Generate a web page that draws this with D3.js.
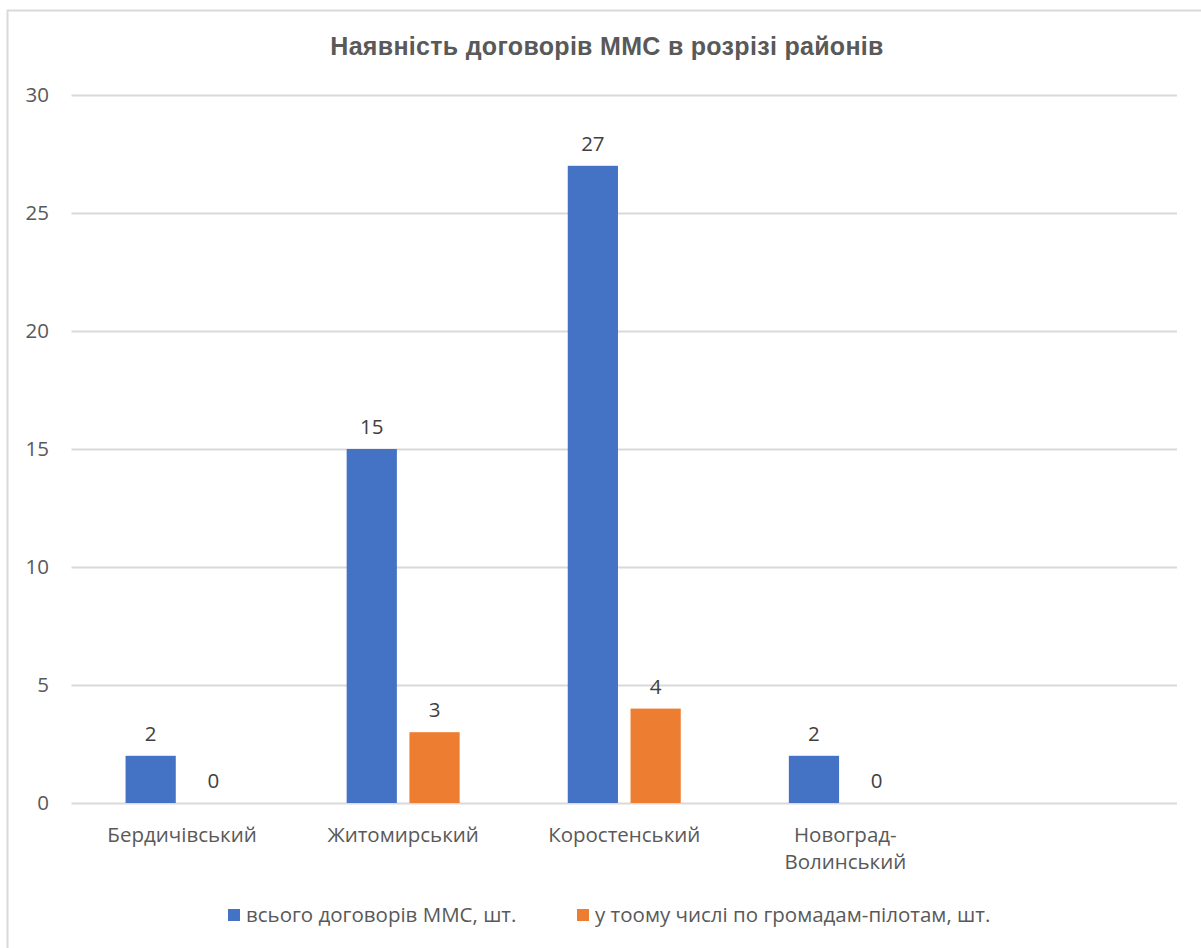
<!DOCTYPE html>
<html>
<head>
<meta charset="utf-8">
<script src="https://cdn.jsdelivr.net/npm/d3@7"></script>
<style>
  html, body { margin: 0; padding: 0; background: #fff; }
  svg { display: block; }
</style>
</head>
<body>
<div id="chart"></div>
<script>
// chart data
var title = 'Наявність договорів ММС в розрізі районів';
var categories = ['Бердичівський', 'Житомирський', 'Коростенський', 'Новоград-Волинський', ''];
var seriesNames = ['всього договорів ММС, шт.', 'у тоому числі по громадам-пілотам, шт.'];
var totalContracts = [2, 15, 27, 2, null];
var pilotContracts = [0, 3, 4, 0, null];
var yTicks = [0, 5, 10, 15, 20, 25, 30];

var colors = ['#4472c4', '#ed7d31'];
var width = 1201, height = 948;

var svg = d3.select('#chart')
  .append('svg')
  .attr('width', width)
  .attr('height', height);

// outer frame of the chart
svg.append('rect')
  .attr('x', 7.5)
  .attr('y', 10.5)
  .attr('width', 1250)
  .attr('height', 1000)
  .attr('fill', 'none')
  .attr('stroke', '#d9d9d9')
  .attr('stroke-width', 2);

svg.append('text')
  .attr('x', 607)
  .attr('y', 55)
  .attr('text-anchor', 'middle')
  .style('font-family', '"Liberation Sans", Arial, sans-serif')
  .style('font-weight', 'bold')
  .style('font-size', '25px')
  .style('letter-spacing', '0.3px')
  .attr('fill', '#595959')
  .text(title);

var y = d3.scaleLinear().domain([0, 30]).range([803, 95]);
var x0 = d3.scaleBand().domain(categories).range([71.5, 1177]);
var x1 = d3.scaleBand().domain([0, 1]).range([-56.5, 56.5]).paddingInner(0.2);

var labelFont = '"Open Sans", "Noto Sans", sans-serif';
var fs = '20.5px';

// gridlines
svg.append('g')
  .attr('transform', 'translate(71.5,0)')
  .call(d3.axisLeft(y).tickValues(yTicks).tickSize(-(1177 - 71.5)).tickFormat(''))
  .call(function(g){
    g.select('.domain').remove();
    g.selectAll('.tick line').attr('stroke', '#d9d9d9').attr('stroke-width', 2);
  });

// y tick labels
svg.append('g')
  .selectAll('text')
  .data(yTicks)
  .enter()
  .append('text')
  .attr('x', 49)
  .attr('y', function(d){ return y(d); })
  .attr('dy', '0.35em')
  .attr('text-anchor', 'end')
  .style('font-family', labelFont)
  .style('font-size', fs)
  .attr('fill', '#595959')
  .text(function(d){ return d; });

var series = [totalContracts, pilotContracts];
var barData = [];
categories.forEach(function(c, i){
  series.forEach(function(s, j){
    if(s[i] !== null) barData.push({cat: c, s: j, v: s[i]});
  });
});

function barX(d){ return x0(d.cat) + x0.bandwidth() / 2 + x1(d.s); }

svg.selectAll('.bar')
  .data(barData)
  .enter()
  .append('rect')
  .classed('bar', true)
  .attr('x', barX)
  .attr('y', function(d){ return y(d.v); })
  .attr('width', x1.bandwidth())
  .attr('height', function(d){ return y(0) - y(d.v); })
  .attr('fill', function(d){ return colors[d.s]; });

svg.selectAll('.val')
  .data(barData)
  .enter()
  .append('text')
  .classed('val', true)
  .attr('x', function(d){ return barX(d) + x1.bandwidth() / 2; })
  .attr('y', function(d){ return y(d.v) - 15; })
  .attr('text-anchor', 'middle')
  .style('font-family', labelFont)
  .style('font-size', fs)
  .attr('fill', '#404040')
  .text(function(d){ return d.v; });

// category labels (wrap on hyphen)
var catLabels = svg.selectAll('.cat')
  .data(categories)
  .enter()
  .append('text')
  .classed('cat', true)
  .attr('x', function(d){ return x0(d) + x0.bandwidth() / 2; })
  .attr('y', 842)
  .attr('text-anchor', 'middle')
  .style('font-family', labelFont)
  .style('font-size', fs)
  .attr('fill', '#595959');

catLabels.each(function(d){
  var parts = d.indexOf('-') > 0 ? [d.slice(0, d.indexOf('-') + 1), d.slice(d.indexOf('-') + 1)] : [d];
  var t = d3.select(this);
  parts.forEach(function(p, i){
    t.append('tspan')
      .attr('x', x0(d) + x0.bandwidth() / 2)
      .attr('dy', i === 0 ? 0 : 27)
      .text(p);
  });
});

// legend
var legendX = [228, 577];
var legend = svg.selectAll('.legend')
  .data(seriesNames)
  .enter()
  .append('g')
  .classed('legend', true)
  .attr('transform', function(d, i){ return 'translate(' + legendX[i] + ',915)'; });

legend.append('rect')
  .attr('x', 0)
  .attr('y', -6)
  .attr('width', 12)
  .attr('height', 12)
  .attr('fill', function(d, i){ return colors[i]; });

legend.append('text')
  .attr('x', 18)
  .attr('y', 0)
  .attr('dy', '0.35em')
  .style('font-family', labelFont)
  .style('font-size', fs)
  .attr('fill', '#595959')
  .text(function(d){ return d; });
</script>
</body>
</html>
